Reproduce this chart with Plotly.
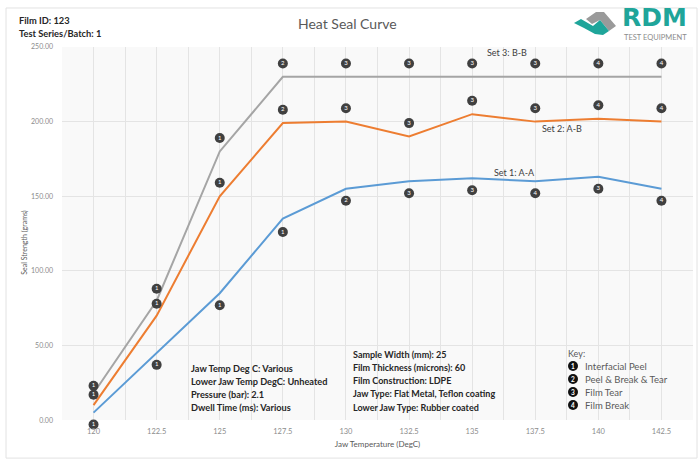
import plotly.graph_objects as go

# ---------------- data ----------------
temps = [120, 122.5, 125, 127.5, 130, 132.5, 135, 137.5, 140, 142.5]
temp_labels = ["120", "122.5", "125", "127.5", "130", "132.5", "135", "137.5", "140", "142.5"]

set1_strength = [5, 45, 85, 135, 155, 160, 162, 160, 163, 155]
set2_strength = [10, 70, 150, 199, 200, 190, 205, 200, 202, 200]
set3_strength = [18, 80, 180, 230, 230, 230, 230, 230, 230, 230]

# failure-mode marker positions (label points) and codes
set1_mark_y = [-3, 37, 77, 126, 147, 152, 154, 152, 155, 147]
set1_mode = ["1", "1", "1", "1", "2", "3", "3", "4", "3", "4"]
set2_mark_y = [17, 78, 159, 208, 209, 199, 214, 209, 211, 209]
set2_mode = ["1", "1", "1", "2", "3", "3", "3", "3", "4", "4"]
set3_mark_y = [23, 88, 189, 239, 239, 239, 239, 239, 239, 239]
set3_mode = ["1", "1", "1", "2", "3", "3", "3", "3", "4", "4"]

y_ticks = [0, 50, 100, 150, 200, 250]
y_tick_labels = ["0.00", "50.00", "100.00", "150.00", "200.00", "250.00"]

key_codes = ["1", "2", "3", "4"]
key_names = ["Interfacial Peel", "Peel & Break & Tear", "Film Tear", "Film Break"]

info_left = ["Jaw Temp Deg C: Various", "Lower Jaw Temp DegC: Unheated",
             "Pressure (bar): 2.1", "Dwell Time (ms): Various"]
info_mid = ["Sample Width (mm): 25", "Film Thickness (microns): 60",
            "Film Construction: LDPE", "Jaw Type: Flat Metal, Teflon coating",
            "Lower Jaw Type: Rubber coated"]

# ---------------- layout geometry ----------------
W, H = 698, 459
Y_TOP_PX, Y_ZERO_PX = 47, 420          # pixel rows of 250 and 0
Y_MAX, Y_PAD = 250, 12                 # room below 0 so the lowest marker is drawn
PX_PER_UNIT = (Y_ZERO_PX - Y_TOP_PX) / Y_MAX
L, R, T = 62, 5, Y_TOP_PX
B = H - (Y_ZERO_PX + Y_PAD * PX_PER_UNIT)
PW, PH = W - L - R, H - T - B
FONT = "Lato, 'Open Sans', sans-serif"
TEAL = "#1fa59a"
X_LO, X_HI = 118.75, 143.75


def px(x):
    return (x - L) / PW


def py(y):
    return (H - B - y) / PH


colors = {"s1": "#5b9bd5", "s2": "#ed7d31", "s3": "#a5a5a5"}

fig = go.Figure()
for name, ys, c in [("Set 1: A-A", set1_strength, colors["s1"]),
                    ("Set 2: A-B", set2_strength, colors["s2"]),
                    ("Set 3: B-B", set3_strength, colors["s3"])]:
    fig.add_trace(go.Scatter(x=temps, y=ys, mode="lines", name=name,
                             line=dict(color=c, width=2), hoverinfo="x+y"))

for ys, modes in [(set1_mark_y, set1_mode), (set2_mark_y, set2_mode), (set3_mark_y, set3_mode)]:
    fig.add_trace(go.Scatter(
        x=temps, y=ys, mode="markers+text", text=modes, textposition="middle center",
        textfont=dict(color="white", size=6, family=FONT),
        marker=dict(size=10, color="#404040", line=dict(width=0)),
        cliponaxis=False, showlegend=False, hoverinfo="skip"))

annotations = []


def note(text, x, y, size, color, xanchor="left", yanchor="middle", family=FONT):
    annotations.append(dict(text=text, x=px(x), y=py(y), xref="paper", yref="paper",
                            showarrow=False, font=dict(size=size, color=color, family=family),
                            xanchor=xanchor, yanchor=yanchor))


# titles / header
note("Heat Seal Curve", 347, 24, 14, "#595959", xanchor="center")
note("<b>Film ID: 123</b>", 17, 21, 9.3, "#262626")
note("<b>Test Series/Batch: 1</b>", 17, 34, 9.3, "#262626")
# series labels
for txt, xx, yy in [("Set 3: B-B", 507, 52), ("Set 2: A-B", 562, 128), ("Set 1: A-A", 514, 172)]:
    note(txt, xx, yy, 9, "#404040", xanchor="center")
# info blocks
for i, t in enumerate(info_left):
    note("<b>" + t + "</b>", 189, 368 + 13 * i, 9.2, "#262626")
for i, t in enumerate(info_mid):
    note("<b>" + t + "</b>", 351, 354 + 13.3 * i, 9, "#262626")
# key
note("Key:", 566, 353, 9, "#595959")
shapes = []
for i, (c, n) in enumerate(zip(key_codes, key_names)):
    cy = 366 + 13 * i
    shapes.append(dict(type="circle", xref="paper", yref="paper", x0=px(568), x1=px(578),
                       y0=py(cy - 5), y1=py(cy + 5), fillcolor="#111111", line=dict(width=0)))
    note("<b>" + c + "</b>", 573, cy, 6.5, "white", xanchor="center")
    note(n, 583, cy, 9.5, "#595959")
# logo
note("<b>RDM</b>", 654, 34, 25, TEAL, xanchor="center", yanchor="bottom",
     family="'DejaVu Sans', sans-serif")
note("TEST EQUIPMENT", 655, 31, 7.5, "#8c8c8c", xanchor="center", yanchor="top")


def path(points):
    return "M " + " L ".join(f"{px(a):.5f},{py(b):.5f}" for a, b in points) + " Z"


shapes.append(dict(type="path", xref="paper", yref="paper", line=dict(width=0), fillcolor="#9a9a9a",
                   path=path([(586, 19), (596, 12), (604, 12), (616, 26), (609, 31), (600, 20), (592, 24)])))
shapes.append(dict(type="path", xref="paper", yref="paper", line=dict(width=0), fillcolor=TEAL,
                   path=path([(574, 23), (581, 19), (593, 26), (600, 20), (609, 31), (603, 35),
                              (595, 34), (584, 28)])))
# white strip below zero (keeps the plot background ending at 0)
shapes.append(dict(type="rect", xref="x", yref="y", x0=X_LO, x1=X_HI, y0=-Y_PAD, y1=0,
                   fillcolor="white", line=dict(width=0), layer="between"))
# outer border
shapes.append(dict(type="rect", xref="paper", yref="paper", x0=px(6), x1=px(697), y0=py(8), y1=py(458),
                   line=dict(color="#e2e2e2", width=1), fillcolor="rgba(0,0,0,0)", layer="below"))

fig.update_layout(
    width=W, height=H, margin=dict(l=L, r=R, t=T, b=B, autoexpand=False),
    paper_bgcolor="white", plot_bgcolor="#f9f9f9",
    showlegend=False, font=dict(family=FONT),
    annotations=annotations, shapes=shapes,
    xaxis=dict(range=[X_LO, X_HI], tickvals=temps, ticktext=temp_labels,
               showgrid=True, gridcolor="#e4e4e4", gridwidth=1,
               minor=dict(tickvals=[t - 1.25 for t in temps] + [X_HI], showgrid=True,
                          gridcolor="#e4e4e4", gridwidth=1),
               zeroline=False, showline=False, ticks="", ticklabelposition="inside",
               tickfont=dict(size=7.5, color="#8c8c8c", family=FONT), ticklabelstandoff=0,
               title=dict(text="Jaw Temperature (DegC)", font=dict(size=8, color="#595959", family=FONT),
                          standoff=6)),
    yaxis=dict(range=[-Y_PAD, Y_MAX], tickvals=y_ticks, ticktext=y_tick_labels,
               showgrid=True, gridcolor="#e4e4e4", gridwidth=1, zeroline=False, showline=False,
               ticks="", tickfont=dict(size=7, color="#8c8c8c", family=FONT), ticklabelstandoff=8,
               title=dict(text="Seal Strength (grams)", font=dict(size=7, color="#595959", family=FONT),
                          standoff=2)),
)

fig.write_html("out.html", config={"displayModeBar": False},
               post_script="document.body.style.margin='0';")
